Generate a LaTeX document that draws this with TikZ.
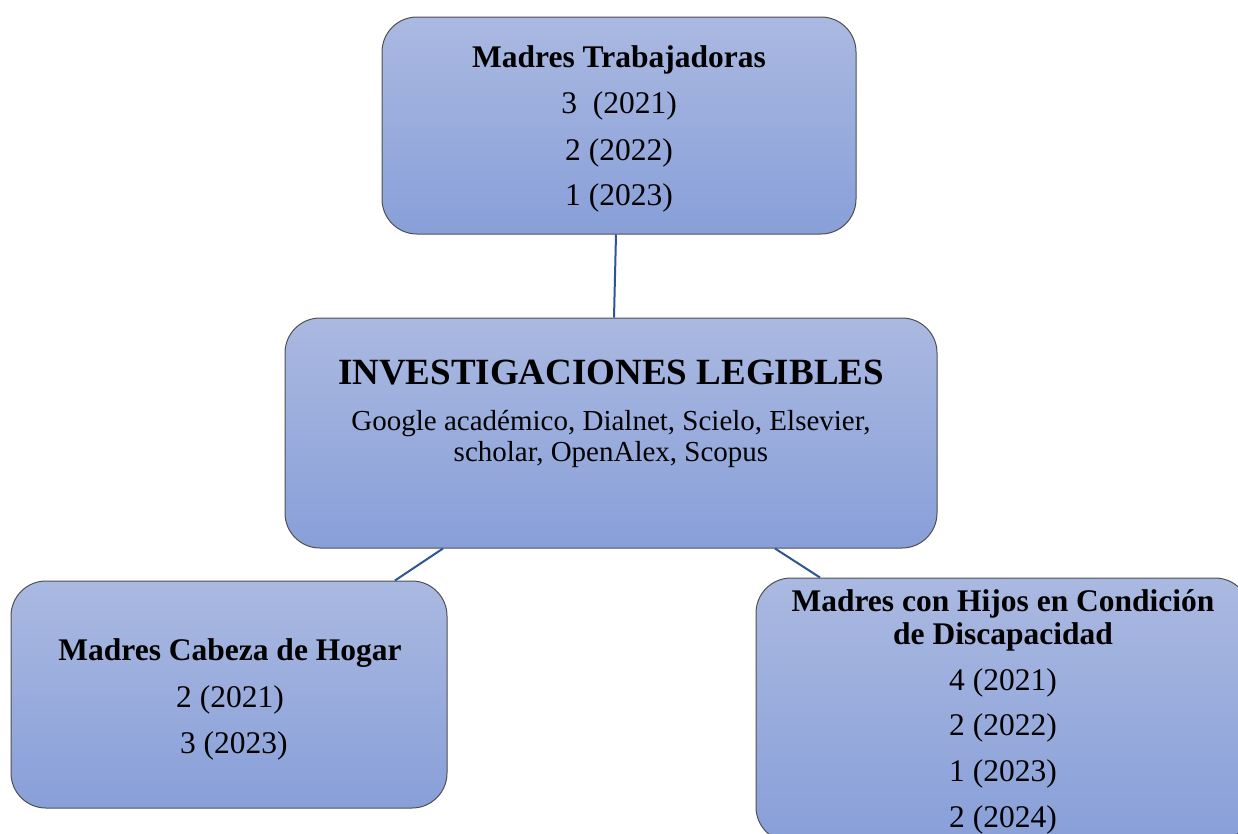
\documentclass[tikz,border=0pt]{standalone}
\usepackage{fontspec}
\setmainfont{Liberation Serif}
\definecolor{boxtop}{HTML}{AAB9E1}
\definecolor{boxbot}{HTML}{889FD8}
\definecolor{boxborder}{HTML}{505050}
\definecolor{conncol}{HTML}{2E5597}
\tikzset{
  box/.style={draw=boxborder, line width=1pt, rounded corners=35pt, top color=boxtop, bottom color=boxbot, inner sep=0pt},
  conn/.style={draw=conncol, line width=2pt},
  txt/.style={anchor=base, inner sep=0pt, text=black},
  ttl/.style={txt, font=\bfseries\fontsize{31.5}{36}\selectfont},
  num/.style={txt, font=\fontsize{31.5}{36}\selectfont},
}
\begin{document}
\begin{tikzpicture}[x=1pt,y=-1pt]
\useasboundingbox (0,0) rectangle (1238,833);
\clip (0,0) rectangle (1238,833);
\fill[white] (0,0) rectangle (1238,833);
% boxes
\node[box, minimum width=474pt, minimum height=217pt] (top) at (619,125.5) {};
\node[box, minimum width=652pt, minimum height=230pt] (mid) at (611,433) {};
\node[box, minimum width=436pt, minimum height=227pt] (left) at (229,694.5) {};
\node[box, minimum width=494pt, minimum height=264pt] (right) at (1003,710) {};
% connectors
\draw[conn] ([xshift=-3pt]top.south) -- ([xshift=3pt]mid.north);
\draw[conn] ([xshift=-168pt]mid.south) -- ([xshift=166pt]left.north);
\draw[conn] ([xshift=164pt]mid.south) -- ([xshift=-183pt]right.north);
% top texts
\node[ttl] (t1) at (619,67) {Madres Trabajadoras};
\node[num] (t2) at (619,113) {3\ \ (2021)};
\node[num] (t3) at (619,160) {2 (2022)};
\node[num] (t4) at (619,205) {1 (2023)};
% center texts
\node[txt, font=\bfseries\fontsize{37}{42}\selectfont] (m1) at (611,384) {INVESTIGACIONES LEGIBLES};
\node[txt, font=\fontsize{29}{33}\selectfont] (m2) at (611,430) {Google académico, Dialnet, Scielo, Elsevier,};
\node[txt, font=\fontsize{29}{33}\selectfont] (m3) at (611,461) {scholar, OpenAlex, Scopus};
% left texts
\node[ttl] (l1) at (230,660) {Madres Cabeza de Hogar};
\node[num] (l2) at (230,707) {2 (2021)};
\node[num] (l3) at (230,753) {\ 3 (2023)};
% right texts
\node[ttl] (r1) at (1003,611) {Madres con Hijos en Condición};
\node[ttl] (r2) at (1003,644) {de Discapacidad};
\node[num] (r3) at (1003,690) {4 (2021)};
\node[num] (r4) at (1003,735) {2 (2022)};
\node[num] (r5) at (1003,781) {1 (2023)};
\node[num] (r6) at (1003,827) {2 (2024)};
\end{tikzpicture}
\end{document}
